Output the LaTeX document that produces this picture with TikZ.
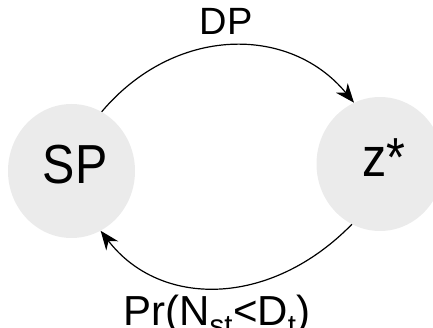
\documentclass[tikz,border=0pt]{standalone}
\usepackage{fontspec}
\setmainfont{Liberation Sans}
\usetikzlibrary{shapes.geometric,arrows.meta}
\definecolor{nodegray}{HTML}{EBEBEB}
\tikzset{
  state/.style={ellipse, fill=nodegray, draw=none, minimum width=127pt, minimum height=134pt, inner sep=0pt},
  bigtext/.style={anchor=base, inner sep=0pt, font=\fontsize{55}{60}\selectfont},
  edgetext/.style={anchor=base, inner sep=0pt},
  flow/.style={line width=1.2pt, -{Stealth[length=19pt, width=15pt, inset=6pt]}}
}
\begin{document}
\begin{tikzpicture}[x=1pt, y=-1pt]
  \useasboundingbox (0,0) rectangle (433,328);
  % the two states
  \node[state] (sp) at (71.5,171) {};
  \node[state] (zs) at (380,164) {};
  \node[bigtext] (splabel) at (75,184) {\scalebox{0.88}[1]{SP}};
  \node[bigtext] (zslabel) at (384,177) {\scalebox{0.88}[1]{z*}};
  % transitions
  \draw[flow] (sp.63) .. controls (175,25) and (290,25) .. (zs.113);
  \draw[flow] (zs.245) .. controls (270,308) and (160,308) .. (sp.296);
  % transition labels
  \node[edgetext, font=\fontsize{38}{42}\selectfont] (dp) at (226,35) {DP};
  \node[edgetext, font=\fontsize{42}{46}\selectfont] (pr) at (217,325) {Pr(N\textsubscript{st}<D\textsubscript{t})};
\end{tikzpicture}
\end{document}
